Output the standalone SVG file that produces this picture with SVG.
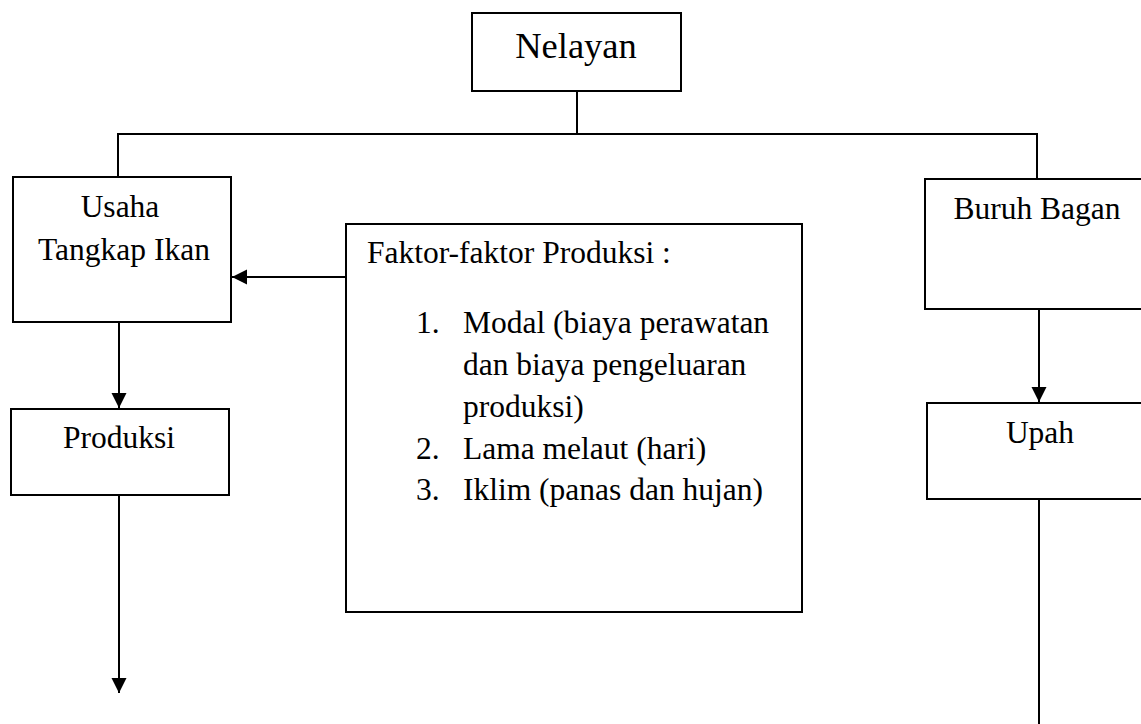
<svg xmlns="http://www.w3.org/2000/svg" width="1141" height="724" viewBox="0 0 1141 724">
  <style>
    .box { fill: #ffffff; stroke: #000000; stroke-width: 2; }
    .conn { fill: none; stroke: #000000; stroke-width: 2; }
    .t { font-family: "Liberation Serif", "Times New Roman", serif; font-size: 31.5px; fill: #000000; }
    .c { text-anchor: middle; }
    .big { font-size: 36.5px; }
  </style>
  <defs>
    <marker id="arrow" markerUnits="userSpaceOnUse" markerWidth="16" markerHeight="16" viewBox="0 0 16 16" refX="15" refY="8" orient="auto">
      <path d="M0,0.5 L15,8 L0,15.5 Z" fill="#000000"/>
    </marker>
  </defs>
  <rect width="1141" height="724" fill="#ffffff"/>

  <g id="connectors">
    <line class="conn" x1="577" y1="91" x2="577" y2="134"/>
    <line class="conn" x1="117" y1="134" x2="1038" y2="134"/>
    <line class="conn" x1="118" y1="134" x2="118" y2="177"/>
    <line class="conn" x1="1037" y1="134" x2="1037" y2="179"/>
    <line class="conn" x1="347" y1="277" x2="232" y2="277" marker-end="url(#arrow)"/>
    <line class="conn" x1="119" y1="322" x2="119" y2="408" marker-end="url(#arrow)"/>
    <line class="conn" x1="119" y1="495" x2="119" y2="693" marker-end="url(#arrow)"/>
    <line class="conn" x1="1039" y1="309" x2="1039" y2="402" marker-end="url(#arrow)"/>
    <line class="conn" x1="1039" y1="499" x2="1039" y2="724"/>
  </g>

  <g id="nelayan">
    <rect class="box" x="472" y="13" width="209" height="78"/>
    <text class="t c big" x="576" y="58">Nelayan</text>
  </g>

  <g id="usaha">
    <rect class="box" x="13" y="177" width="218" height="145"/>
    <text class="t c" x="120" y="217">Usaha</text>
    <text class="t c" x="124" y="260">Tangkap Ikan</text>
  </g>

  <g id="faktor">
    <rect class="box" x="346" y="224" width="456" height="388"/>
    <text class="t" x="367" y="263">Faktor-faktor Produksi :</text>
    <text class="t" x="416" y="333">1.</text>
    <text class="t" x="463" y="333">Modal (biaya perawatan</text>
    <text class="t" x="463" y="375">dan biaya pengeluaran</text>
    <text class="t" x="463" y="417">produksi)</text>
    <text class="t" x="416" y="459">2.</text>
    <text class="t" x="463" y="459">Lama melaut (hari)</text>
    <text class="t" x="416" y="500">3.</text>
    <text class="t" x="463" y="500">Iklim (panas dan hujan)</text>
  </g>

  <g id="produksi">
    <rect class="box" x="11" y="409" width="218" height="86"/>
    <text class="t c" x="119" y="448">Produksi</text>
  </g>

  <g id="buruh">
    <rect class="box" x="925" y="179" width="222" height="130"/>
    <text class="t c" x="1037" y="219">Buruh Bagan</text>
  </g>

  <g id="upah">
    <rect class="box" x="927" y="403" width="220" height="96"/>
    <text class="t c" x="1040" y="443">Upah</text>
  </g>
</svg>
